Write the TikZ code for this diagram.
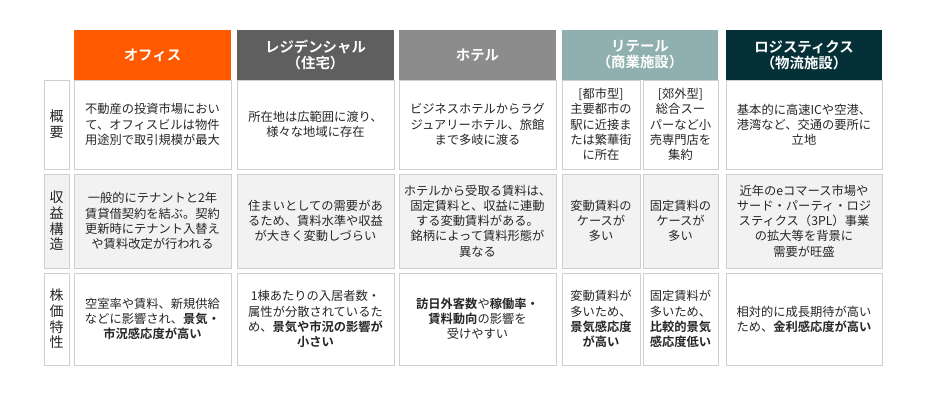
\documentclass[tikz,border=0pt]{standalone}
\usepackage{fontspec}
\setmainfont{Noto Sans CJK JP}[BoldFont={Noto Sans CJK JP Bold}]
\usetikzlibrary{shadows}
\definecolor{cOff}{HTML}{FF5A00}
\definecolor{cRes}{HTML}{5F5F5F}
\definecolor{cHot}{HTML}{8C8C8C}
\definecolor{cRet}{HTML}{8FB0AE}
\definecolor{cLog}{HTML}{063038}
\definecolor{cTxt}{HTML}{262626}
\definecolor{cBd}{HTML}{CFCFCF}
\definecolor{cG}{HTML}{F2F2F2}
\tikzset{
 cellbox/.style={draw=cBd,line width=0.6pt,align=center,inner sep=0pt,text=cTxt,
   font=\fontsize{9.2}{11.4}\selectfont,
   drop shadow={shadow xshift=0.8pt,shadow yshift=-0.8pt,fill=black!22,opacity=1}},
 lblbox/.style={cellbox,font=\fontsize{10.5}{11.8}\selectfont},
 headbox/.style={draw=none,align=center,inner sep=0pt,text=white,
   font=\fontsize{10.8}{12}\selectfont\bfseries}
}
\newcommand{\mkcell}[7]{%
 \node[#6,minimum width={(#3-#1)*0.75pt},minimum height={(#4-#2)*0.75pt}] (#5) at ({(#1+#3)/2*0.75pt},{-(#2+#4)/2*0.75pt}) {#7};}
\begin{document}
\begin{tikzpicture}
\useasboundingbox[fill=white] (0,0) rectangle (930*0.75pt,-400*0.75pt);
% headers
\mkcell{74}{30}{231}{80}{hOff}{headbox,fill=cOff}{オフィス}
\mkcell{237}{30}{394}{80}{hRes}{headbox,fill=cRes}{レジデンシャル\\（住宅）}
\mkcell{399}{30}{556}{80}{hHot}{headbox,fill=cHot}{ホテル}
\mkcell{562}{30}{718}{80}{hRet}{headbox,fill=cRet}{リテール\\（商業施設）}
\mkcell{726}{30}{882}{80}{hLog}{headbox,fill=cLog}{ロジスティクス\\（物流施設）}
% row labels
\mkcell{44}{80}{69}{169}{l1}{lblbox,fill=white}{概\\要}
\mkcell{44}{174}{69}{268}{l2}{lblbox,fill=cG}{収\\益\\構\\造}
\mkcell{44}{273}{69}{365}{l3}{lblbox,fill=white}{株\\価\\特\\性}
% row 1
\mkcell{74}{80}{231}{169}{a1}{cellbox,fill=white}{不動産の投資市場におい\\て、オフィスビルは物件\\用途別で取引規模が最大}
\mkcell{237}{80}{394}{169}{b1}{cellbox,fill=white}{所在地は広範囲に渡り、\\様々な地域に存在}
\mkcell{399}{80}{556}{169}{c1}{cellbox,fill=white}{ビジネスホテルからラグ\\ジュアリーホテル、旅館\\まで多岐に渡る}
\mkcell{562}{80}{640}{169}{d1}{cellbox,fill=white}{[都市型]\\主要都市の\\駅に近接ま\\たは繁華街\\に所在}
\mkcell{643}{80}{718}{169}{e1}{cellbox,fill=white}{[郊外型]\\総合スー\\パーなど小\\売専門店を\\集約}
\mkcell{726}{80}{882}{169}{f1}{cellbox,fill=white}{基本的に高速ICや空港、\\港湾など、交通の要所に\\立地}
% row 2
\mkcell{74}{174}{231}{268}{a2}{cellbox,fill=cG}{一般的にテナントと2年\\賃貸借契約を結ぶ。契約\\更新時にテナント入替え\\や賃料改定が行われる}
\mkcell{237}{174}{394}{268}{b2}{cellbox,fill=cG}{住まいとしての需要があ\\るため、賃料水準や収益\\が大きく変動しづらい}
\mkcell{399}{174}{556}{268}{c2}{cellbox,fill=cG}{ホテルから受取る賃料は、\\固定賃料と、収益に連動\\する変動賃料がある。\\銘柄によって賃料形態が\\異なる}
\mkcell{562}{174}{640}{268}{d2}{cellbox,fill=cG}{変動賃料の\\ケースが\\多い}
\mkcell{643}{174}{718}{268}{e2}{cellbox,fill=cG}{固定賃料の\\ケースが\\多い}
\mkcell{726}{174}{882}{268}{f2}{cellbox,fill=cG}{近年のeコマース市場や\\サード・パーティ・ロジ\\スティクス（3PL）事業\\の拡大等を背景に\\需要が旺盛}
% row 3
\mkcell{74}{273}{231}{365}{a3}{cellbox,fill=white}{空室率や賃料、新規供給\\などに影響され、\textbf{景気・}\\\textbf{市況感応度が高い}}
\mkcell{237}{273}{394}{365}{b3}{cellbox,fill=white}{1棟あたりの入居者数・\\属性が分散されているた\\め、\textbf{景気や市況の影響が}\\\textbf{小さい}}
\mkcell{399}{273}{556}{365}{c3}{cellbox,fill=white}{\textbf{訪日外客数}や\textbf{稼働率・}\\\textbf{賃料動向}の影響を\\受けやすい}
\mkcell{562}{273}{640}{365}{d3}{cellbox,fill=white}{変動賃料が\\多いため、\\\textbf{景気感応度}\\\textbf{が高い}}
\mkcell{643}{273}{718}{365}{e3}{cellbox,fill=white}{固定賃料が\\多いため、\\\textbf{比較的景気}\\\textbf{感応度低い}}
\mkcell{726}{273}{882}{365}{f3}{cellbox,fill=white}{相対的に成長期待が高い\\ため、\textbf{金利感応度が高い}}
\end{tikzpicture}
\end{document}
